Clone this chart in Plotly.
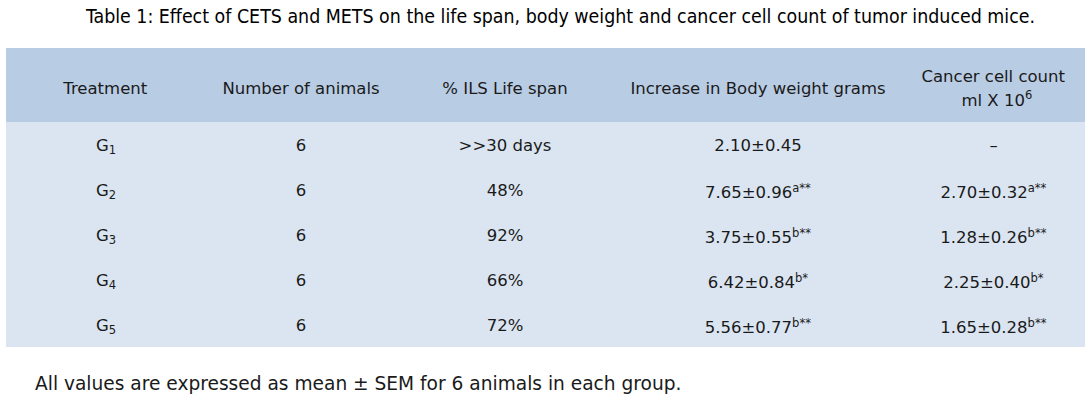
import plotly.graph_objects as go

title = "Table 1: Effect of CETS and METS on the life span, body weight and cancer cell count of tumor induced mice."
footnote = "All values are expressed as mean ± SEM for 6 animals in each group."

header_single = ["Treatment", "Number of animals", "% ILS Life span", "Increase in Body weight grams"]
header_two = ["Cancer cell count", "ml X 10<sup>6</sup>"]
groups = ["1", "2", "3", "4", "5"]
n_animals = [6, 6, 6, 6, 6]
ils = ["&gt;&gt;30 days", "48%", "92%", "66%", "72%"]
bw_mean = ["2.10", "7.65", "3.75", "6.42", "5.56"]
bw_sem = ["0.45", "0.96", "0.55", "0.84", "0.77"]
bw_sig = ["", "a**", "b**", "b*", "b**"]
cc_mean = [None, "2.70", "1.28", "2.25", "1.65"]
cc_sem = [None, "0.32", "0.26", "0.40", "0.28"]
cc_sig = ["", "a**", "b**", "b*", "b**"]

W, H = 1090, 402
FONT = "DejaVu Sans, sans-serif"
BIG = 16.5
BASE = 9.2
TXT = "#1a1a1a"

X0, X1 = 6, 1085
HEAD_TOP, BODY_TOP, BODY_BOT = 48, 122, 347
TABLE_TOP = 53.5
ROW1_TOP = 127.5
ROW_H = 45


def big(t):
    return f"<span style='font-size:{BIG}px'>{t}</span>"


def pad(px):
    # invisible leading space used to centre a shorter second header line
    return f"<span style='font-size:{px / (4 * 0.318):.2f}px'>" + "\u00a0" * 4 + "</span>"


def wrap(t):
    return f"<span>{t}</span>"


def fmt(m, s, sig):
    if m is None:
        return wrap("–")
    t = f"{m}±{s}"
    if sig:
        t += f"<sup>{sig}</sup>"
    return wrap(t)


headers = ["\u00a0<br><br>" + big(h) for h in header_single]
headers.append("\u00a0<br>" + big(header_two[0]) + "<br><br>" + pad(40) + big(header_two[1]))

col_treat = [wrap(f"G<sub>{g}</sub>") for g in groups]
col_n = [wrap(str(v)) for v in n_animals]
col_ils = [wrap(v) for v in ils]
col_bw = [fmt(m, s, g) for m, s, g in zip(bw_mean, bw_sem, bw_sig)]
col_cc = [fmt(m, s, g) for m, s, g in zip(cc_mean, cc_sem, cc_sig)]

clear = "rgba(0,0,0,0)"
fig = go.Figure(go.Table(
    domain=dict(x=[X0 / W, X1 / W], y=[0, 1 - TABLE_TOP / H]),
    columnwidth=[200, 190, 218, 288, 183],
    header=dict(
        values=headers,
        fill_color=clear,
        line=dict(color=clear, width=0),
        align="center",
        font=dict(family=FONT, size=BASE, color=TXT),
        height=ROW1_TOP - TABLE_TOP,
    ),
    cells=dict(
        values=[col_treat, col_n, col_ils, col_bw, col_cc],
        fill_color=clear,
        line=dict(color=clear, width=0),
        align="center",
        font=dict(family=FONT, size=BIG, color=TXT),
        height=ROW_H,
    ),
))

# background bands of the table
fig.add_shape(type="rect", xref="paper", yref="paper", layer="below",
              x0=X0 / W, x1=X1 / W, y0=1 - BODY_TOP / H, y1=1 - HEAD_TOP / H,
              fillcolor="#b8cce4", line=dict(width=0))
fig.add_shape(type="rect", xref="paper", yref="paper", layer="below",
              x0=X0 / W, x1=X1 / W, y0=1 - BODY_BOT / H, y1=1 - BODY_TOP / H,
              fillcolor="#dbe5f1", line=dict(width=0))

fig.add_annotation(text=title, x=560 / W, y=1 - 16 / H, xref="paper", yref="paper",
                   showarrow=False, xanchor="center", yanchor="middle",
                   font=dict(family="DejaVu Sans Condensed, sans-serif", size=19.4, color="#000000"))
fig.add_annotation(text=footnote, x=33 / W, y=1 - 383 / H, xref="paper", yref="paper",
                   showarrow=False, xanchor="left", yanchor="middle",
                   font=dict(family=FONT, size=18.6, color=TXT))

fig.update_layout(width=W, height=H, margin=dict(l=0, r=0, t=0, b=0),
                  paper_bgcolor="white", plot_bgcolor="white")
fig.write_html("out.html", config={"displayModeBar": False},
               post_script="document.body.style.margin='0px';")
